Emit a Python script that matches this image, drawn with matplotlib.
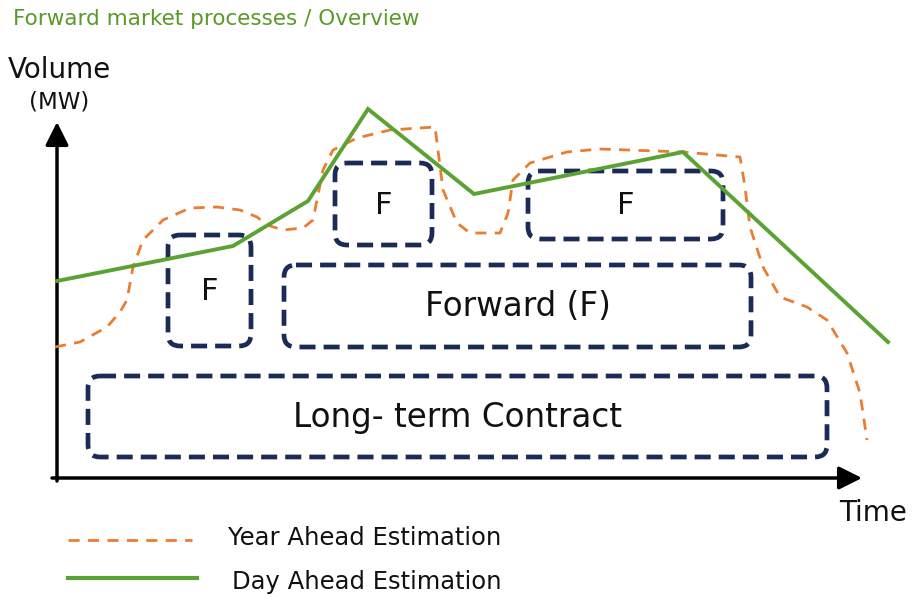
import matplotlib
matplotlib.use("Agg")
import matplotlib.pyplot as plt
from matplotlib.patches import FancyBboxPatch, FancyArrowPatch

# ---- data (pixel-space diagram coordinates, y grows downward) ----
day_ahead_x = [57, 233, 308, 368, 474, 683, 888]
day_ahead_y = [281, 246, 201, 109, 194, 152, 342]

year_ahead_x = [55, 80, 107, 120, 127, 133, 143, 163, 190, 217, 240, 257, 267, 283,
                303, 313, 317, 323, 333, 357, 390, 435, 438, 443, 457, 470, 500,
                508, 513, 530, 567, 600, 683, 740, 745, 750, 763, 780, 807, 827,
                847, 860, 867]
year_ahead_y = [347, 342, 327, 312, 300, 267, 240, 220, 208, 207, 210, 217, 225, 230,
                228, 220, 200, 170, 150, 138, 130, 127, 150, 190, 223, 233, 233,
                213, 180, 163, 152, 149, 152, 157, 187, 227, 267, 297, 307, 320,
                353, 393, 440]

box_labels = ["F", "F", "F", "Forward (F)", "Long- term Contract"]
box_x0 = [168, 335, 528, 284, 88]
box_x1 = [251, 432, 723, 751, 827]
box_y0 = [235, 163, 171, 265, 376]
box_y1 = [346, 245, 239, 347, 457]
box_fontsize = [22, 22, 22, 23.5, 23.5]

title = "Forward market processes / Overview"
legend_labels = ["Year Ahead Estimation", "Day Ahead Estimation"]

ORANGE = "#ea7d32"
GREEN = "#5aa332"
NAVY = "#1b2a57"

fig = plt.figure(figsize=(9.13, 5.97), dpi=100)
ax = fig.add_axes([0, 0, 1, 1])
ax.set_xlim(0, 913)
ax.set_ylim(597, 0)
ax.axis("off")

# axes arrows
ax.add_patch(FancyArrowPatch((57, 481), (57, 122), arrowstyle="-|>,head_length=10,head_width=5",
                             color="black", lw=2.5, mutation_scale=1.4, shrinkA=0, shrinkB=0))
ax.add_patch(FancyArrowPatch((52, 478), (862, 478), arrowstyle="-|>,head_length=10,head_width=5",
                             color="black", lw=2.5, mutation_scale=1.4, shrinkA=0, shrinkB=0))

# boxes
for lab, x0, x1, y0, y1, fs in zip(box_labels, box_x0, box_x1, box_y0, box_y1, box_fontsize):
    r = 12
    p = FancyBboxPatch((x0 + r, y0 + r), (x1 - x0) - 2 * r, (y1 - y0) - 2 * r,
                       boxstyle=f"round,pad={r}", fill=False, edgecolor=NAVY,
                       lw=3.4, linestyle=(0, (3.4, 1.7)), capstyle="butt")
    ax.add_patch(p)
    ax.text((x0 + x1) / 2, (y0 + y1) / 2 + 1, lab, ha="center", va="center",
            fontsize=fs, color="#111111")

# lines
ax.plot(year_ahead_x, year_ahead_y, color=ORANGE, lw=2, linestyle=(0, (4, 3)))
ax.plot(day_ahead_x, day_ahead_y, color=GREEN, lw=2.8, solid_joinstyle="miter")

# texts
ax.text(13, 19, title, fontsize=15.5, color="#5a9a2a", ha="left", va="center")
ax.text(8, 70, "Volume", fontsize=20, ha="left", va="center", color="#111111")
ax.text(29, 102, "(MW)", fontsize=16.5, ha="left", va="center", color="#111111")
ax.text(839, 513, "Time", fontsize=20, ha="left", va="center", color="#111111")

# legend
ax.plot([68, 192], [540, 540], color=ORANGE, lw=2, linestyle=(0, (4, 3)))
ax.plot([68, 197], [578, 578], color=GREEN, lw=3)
ax.text(228, 538, legend_labels[0], fontsize=17.5, ha="left", va="center", color="#111111")
ax.text(232, 582, legend_labels[1], fontsize=17.5, ha="left", va="center", color="#111111")

fig.savefig("out.png", dpi=100)
